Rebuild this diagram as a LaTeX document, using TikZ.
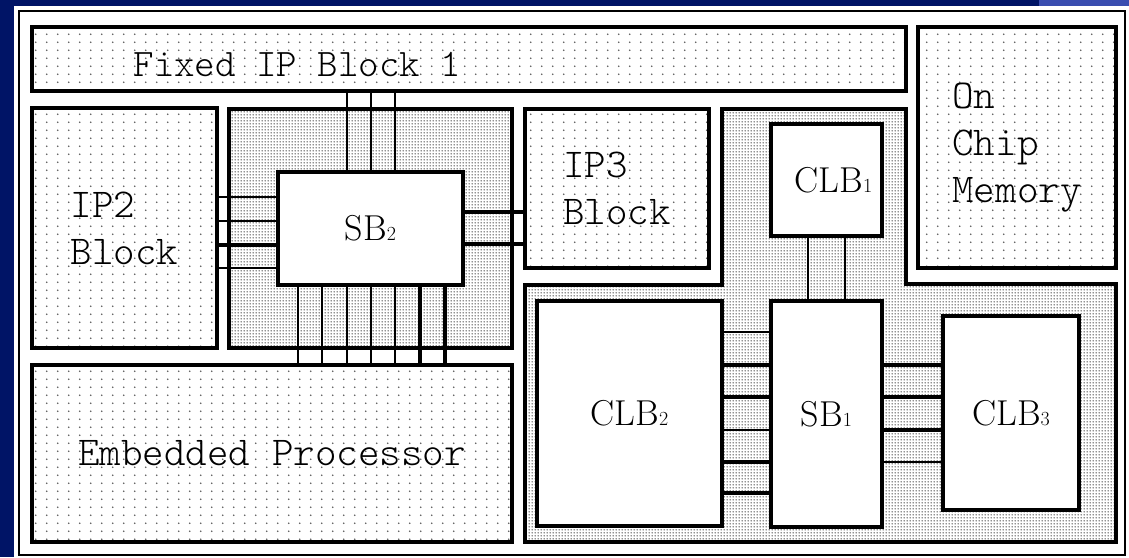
\documentclass[tikz,border=0pt]{standalone}
\usepackage{fontspec}
\usetikzlibrary{patterns.meta}
\setmonofont{Latin Modern Mono Light}
\definecolor{slidenavy}{HTML}{001466}
\definecolor{slideblue}{HTML}{3A4DB0}

\tikzdeclarepattern{
  name=sparsedots, type=uncolored,
  bounding box={(0pt,0pt) and (11pt,8pt)},
  tile size={(11pt,8pt)},
  code={\fill (3pt,3pt) circle (0.95pt);}
}
\tikzdeclarepattern{
  name=densedots, type=uncolored,
  bounding box={(0pt,0pt) and (3pt,3pt)},
  tile size={(3pt,3pt)},
  code={\fill (1.5pt,1.5pt) circle (0.95pt);}
}

\newcommand{\ipfont}{\fontsize{41}{47}\selectfont\ttfamily}
\newcommand{\blkfont}{\fontsize{36}{40}\selectfont}
\newcommand{\idx}[1]{{\fontsize{20}{21}\selectfont #1}}

\begin{document}
\begin{tikzpicture}[x=1pt,y=-1pt,
    ipblock/.style={draw,line width=3.2pt,pattern=sparsedots,pattern color=black!65,
      inner sep=0pt,outer sep=0pt,anchor=north west,font=\ipfont,align=left},
    region/.style={draw,line width=3.2pt,pattern=densedots,pattern color=black!85},
    logic/.style={draw,line width=3.2pt,fill=white,inner sep=0pt,outer sep=0pt,
      anchor=north west,font=\blkfont}]
  \useasboundingbox (0,0) rectangle (1129,557);
  % Slide
  \fill[slidenavy] (0,0) rectangle (1129,557);
  \fill[slideblue] (1039,0) rectangle (1129,6);
  \fill[white] (14,6) rectangle (1129,557);
  \draw[line width=1.8pt] (19,11) rectangle (1125,555);
  % Routing areas
  \draw[region] (229,109) rectangle (512,348);
  \draw[region] (722,109) -- (906,109) -- (906,284) -- (1116,284) -- (1116,542)
    -- (525,542) -- (525,285) -- (722,285) -- cycle;
  % IP blocks
  \node[ipblock,minimum width=874pt,minimum height=64pt] (fixed) at (32,27) {};
  \node[font=\fontsize{39}{47}\selectfont\ttfamily,anchor=west] (fixedname)
    at ([xshift=98pt,yshift=-5pt]fixed.west) {Fixed IP Block 1};
  \node[ipblock,minimum width=185pt,minimum height=240pt] (ip2) at (32,108) {IP2\\Block};
  \node[ipblock,minimum width=184pt,minimum height=159pt] (ip3) at (525,109) {IP3\\Block};
  \node[ipblock,minimum width=198pt,minimum height=241pt] (mem) at (918,27) {On\\Chip\\Memory};
  \node[ipblock,minimum width=480pt,minimum height=177pt] (emb) at (32,365) {Embedded Processor};
  % Switch boxes and logic blocks
  \node[logic,minimum width=185pt,minimum height=113pt] (sb2) at (278,172) {SB\idx{2}};
  \node[logic,minimum width=111pt,minimum height=112pt] (clb1) at (771,124) {\hspace{14pt}CLB\idx{1}};
  \node[logic,minimum width=111pt,minimum height=226pt] (sb1) at (771,301) {SB\idx{1}};
  \node[logic,minimum width=185pt,minimum height=225pt] (clb2) at (537,301) {CLB\idx{2}};
  \node[logic,minimum width=136pt,minimum height=194pt] (clb3) at (943,316) {CLB\idx{3}};
  % SB2 wiring
  \foreach \x in {347,371,395}
    \draw[line width=2.2pt] (\x,0 |- sb2.north) -- (\x,0 |- fixed.south);
  \foreach \y/\w in {197/2.2pt,221/2.2pt,245/3.8pt,268/2.2pt}
    \draw[line width=\w] (ip2.east |- 0,\y) -- (sb2.west |- 0,\y);
  \foreach \y in {212,244}
    \draw[line width=3.8pt] (sb2.east |- 0,\y) -- (ip3.west |- 0,\y);
  \foreach \x/\w in {298/2.2pt,322/2.2pt,347/2.2pt,371/2.2pt,395/2.2pt,420/3.2pt,445/3.2pt}
    \draw[line width=\w] (\x,0 |- sb2.south) -- (\x,0 |- emb.north);
  % SB1 wiring
  \foreach \x in {808,845}
    \draw[line width=2.5pt] (\x,0 |- clb1.south) -- (\x,0 |- sb1.north);
  \foreach \y/\w in {332/2.5pt,365/3.2pt,397/3.2pt,430/2.5pt,462/3.2pt,493/3.8pt}
    \draw[line width=\w] (clb2.east |- 0,\y) -- (sb1.west |- 0,\y);
  \foreach \y/\w in {365/3.2pt,397/3.2pt,430/3.2pt,462/2.5pt}
    \draw[line width=\w] (sb1.east |- 0,\y) -- (clb3.west |- 0,\y);
\end{tikzpicture}
\end{document}
